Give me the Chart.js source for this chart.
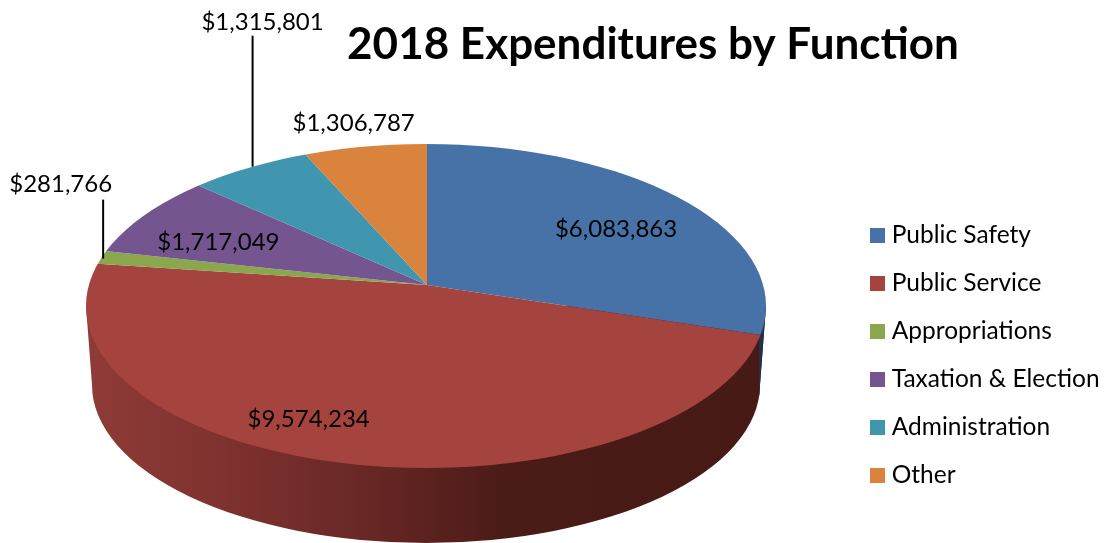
<!DOCTYPE html>
<html><head><meta charset="utf-8">
<style>html,body{margin:0;padding:0;background:#fff}canvas{display:block}</style>
<script src="https://cdn.jsdelivr.net/npm/chart.js@4"></script>
</head><body><canvas id="c" width="1107" height="543"></canvas>
<script>
const categories = ["Public Safety","Public Service","Appropriations","Taxation & Election","Administration","Other"];
const values = [6083863,9574234,281766,1717049,1315801,1306787];
const colors = ["#4672a8","#a5433f","#8aa74d","#74558f","#3f96ae","#d9833c"];
const chartTitle = "2018 Expenditures by Function";

// 3D look: drawing geometry only
const apex = {x:427,y:285}, squash = 0.46, reach = 430, rimRx = 340;
const top3d = {x:426,y:306,rx:340,ry:162}, bot3d = {x:426,y:385,rx:334,ry:158};
// label offset from the projected slice mid-point on the rim
const labelShift = [[-86,36],[-42,-18],[-32,-72],[91,31],[30,-134],[-5,-9]];
// leader [from offset, to offset] relative to the rim mid-point
const leaders = {2:[[10.5,-57],[10.5,2]],4:[[20,-121],[20,10]]};

const rimPoint = (arc) => {
  const a = (arc.startAngle + arc.endAngle) / 2;
  return {x: apex.x + Math.cos(a) * rimRx, y: apex.y + Math.sin(a) * rimRx * squash};
};

const pie3d = {
  id:'pie3d',
  afterLayout(chart){
    const l = chart.legend, t = chart.titleBlock;
    const dx = 852 - l.left, dy = 199.75 - l.top;
    l.left += dx; l.right += dx + 20; l.top += dy; l.bottom += dy + 100;
    t.left = 346; t.right = 960; t.top = 0;
  },
  beforeDatasetsDraw(chart){
    const ctx = chart.ctx, arcs = chart.getDatasetMeta(0).data;
    ctx.save();
    const wall = new Path2D();
    wall.moveTo(top3d.x - top3d.rx, top3d.y);
    wall.lineTo(bot3d.x - bot3d.rx, bot3d.y);
    wall.ellipse(bot3d.x, bot3d.y, bot3d.rx, bot3d.ry, 0, Math.PI, 0, true);
    wall.lineTo(top3d.x + top3d.rx, top3d.y);
    wall.closePath();
    const g = ctx.createLinearGradient(top3d.x - top3d.rx, 0, top3d.x + top3d.rx, 0);
    g.addColorStop(0, '#8f3b37');
    g.addColorStop(0.2, '#7f322f');
    g.addColorStop(0.42, '#672725');
    g.addColorStop(0.62, '#4a1b17');
    g.addColorStop(1, '#471a16');
    ctx.fillStyle = g;
    ctx.fill(wall);
    ctx.save();
    ctx.clip(wall);
    ctx.fillStyle = '#20304d';
    ctx.fillRect(759, 300, 20, 120);
    ctx.restore();
    ctx.restore();

    const a0 = arcs[0];
    const k = reach / a0.outerRadius;
    ctx.save();
    ctx.beginPath();
    ctx.ellipse(top3d.x, top3d.y, top3d.rx, top3d.ry, 0, 0, Math.PI * 2);
    ctx.clip();
    ctx.translate(apex.x, apex.y);
    ctx.scale(k, k * squash);
    ctx.translate(-a0.x, -a0.y);
  },
  afterDatasetsDraw(chart){
    const ctx = chart.ctx, arcs = chart.getDatasetMeta(0).data;
    ctx.restore();
    ctx.save();
    ctx.strokeStyle = '#000'; ctx.lineWidth = 2;
    Object.keys(leaders).forEach(i => {
      const p = rimPoint(arcs[i]), [f, t] = leaders[i];
      ctx.beginPath();
      ctx.moveTo(p.x + f[0], p.y + f[1]);
      ctx.lineTo(p.x + t[0], p.y + t[1]);
      ctx.stroke();
    });
    ctx.fillStyle = '#000';
    ctx.font = '24px Lato';
    ctx.textAlign = 'center';
    ctx.textBaseline = 'middle';
    values.forEach((v, i) => {
      const p = rimPoint(arcs[i]);
      ctx.fillText('$' + v.toLocaleString('en-US'), p.x + labelShift[i][0], p.y + labelShift[i][1]);
    });
    ctx.restore();
  }
};

new Chart(document.getElementById('c'), {
  type:'pie',
  data:{labels:categories,datasets:[{data:values,backgroundColor:colors,borderWidth:0,clip:false}]},
  options:{
    responsive:false,animation:false,
    plugins:{
      tooltip:{enabled:false},
      title:{display:true,text:chartTitle,color:'#000',align:'center',
        font:{family:'Lato',size:44,weight:'bold'},padding:{top:18,bottom:10}},
      legend:{position:'right',align:'start',
        labels:{color:'#000',font:{family:'Lato',size:24.5},boxWidth:4,boxHeight:4,padding:23.5,
          generateLabels(chart){
            return Chart.overrides.pie.plugins.legend.labels.generateLabels(chart).map(it => {
              it.lineWidth = 11; it.strokeStyle = it.fillStyle; return it;
            });
          }}}
    }
  },
  plugins:[pie3d]
});
</script></body></html>
